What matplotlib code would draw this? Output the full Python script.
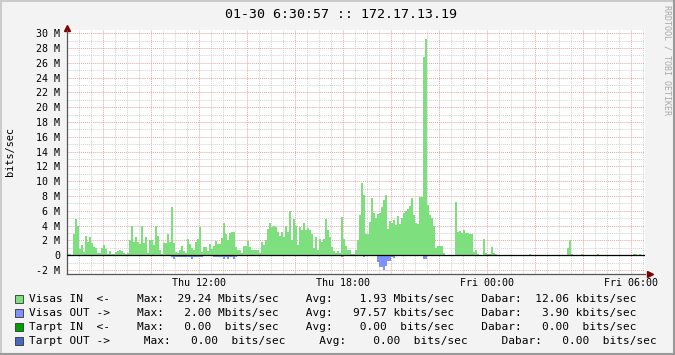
import numpy as np
import matplotlib.pyplot as plt
from matplotlib.lines import Line2D
from matplotlib.patches import Rectangle
from matplotlib.ticker import MultipleLocator

# Visas IN, Mbit/s, one value per 5 min starting Thu 06:30
visas_in = [
    0.15, 0.2, 0, 2.8, 4.9, 3.9, 0.8, 1.4, 0.45, 2.55,
    1.8, 2.5, 1.6, 1.05, 1.0, 0.35, 0.25, 1.0, 1.35, 0.9,
    0.2, 0.55, 0.2, 0.1, 0.45, 0.55, 0.65, 0.55, 0.25, 0.2,
    0.35, 2.0, 4.0, 1.8, 2.45, 1.8, 1.45, 4.0, 1.7, 2.45,
    0.35, 2.0, 2.0, 1.35, 4.0, 2.65, 0.65, 0.2, 1.7,
    1.7, 2.8, 1.8, 6.5, 1.6, 0.45, 0.35, 0.65, 1.3, 0.55,
    0.35, 2.2, 1.55, 1.0, 0.65, 1.8, 2.2, 3.8, 0.45, 1.1,
    1.1, 0.55, 1.55, 0.9, 1.3, 1.9, 1.45, 1.55, 2.35, 4.35,
    2.9, 2.0, 3.0, 3.1, 3.2, 1.1, 0.65, 0.65, 0.35, 1.2,
    1.2, 1.9, 1.1, 0.65, 0.65, 0.75, 0.65, 0.35, 1.8, 1.35,
    2.0, 3.6, 4.3, 3.8, 4.0, 3.8, 3.1, 2.6, 3.1, 2.45,
    4.0, 3.1, 6.0, 2.0, 4.9, 4.0, 1.35, 3.8, 3.45, 4.3,
    3.45, 3.7, 3.45, 2.9, 1.0, 2.45, 0.65, 2.2, 1.8, 2.25,
    4.9, 3.45, 2.45, 1.1, 0.55, 0.35, 0.55, 0.35, 5.1, 2.25,
    1.2, 0.65, 0.65, 0.2,
    0.2, 0.7, 2.0, 5.4, 9.7, 8.1, 2.8, 2.8, 4.5, 7.7, 5.7,
    5.0, 5.6, 5.7, 6.5, 7.4, 8.2, 3.5, 4.6, 4.4, 4.8,
    4.05, 5.3, 4.2, 5.0, 5.7, 6.0, 6.2, 6.7, 7.7, 5.5,
    4.4, 4.2, 7.9, 7.9,
    26.8, 29.2, 6.8, 5.5, 5.0, 4.0, 0.95, 1.2, 1.2, 1.2, 0.3, 0,
    0, 0, 0, 0,
    7.2, 3.15, 3.3, 3.05, 3.4, 3.05, 2.95, 2.9, 2.8, 0.45,
    0.7, 0.1, 0, 0, 2.25, 0.25, 0.2, 0.1, 1.1, 0.25, 0.1,
    0, 0, 0, 0, 0, 0, 0, 0, 0, 0, 0, 0, 0, 0, 0, 0,
    0.15,
    0, 0, 0, 0, 0, 0, 0, 0, 0, 0, 0, 0, 0, 0, 0, 0, 0, 0,
    1.0, 2.0, 0.2,
    0, 0, 0, 0,
    0.15,
    0, 0, 0, 0, 0, 0, 0,
    0.15,
    0, 0, 0, 0, 0, 0, 0, 0, 0, 0, 0, 0, 0, 0, 0, 0, 0,
    0.15, 0.15, 0, 0.15, 0, 0,
]

# Visas OUT (drawn below zero), runs of samples: first sample number + values
out_first = [53, 74, 138, 149, 156, 179]
out_runs = [
    [0.3, 0.5, 0.3, 0.3, 0.3, 0.3, 0.3, 0.3, 0.3, 0.3, 0.5, 0.3, 0.3, 0.3, 0.3, 0.3],
    [0.3, 0.3, 0.3, 0.3, 0.3, 0.5, 0.3, 0.5, 0.3, 0.3, 0.5, 0.3],
    [0.3],
    [0.3],
    [0.9, 1.6, 1.6, 2.0, 1.5, 0.8, 0.8, 0.3, 0.4],
    [0.5, 0.5],
]

x_ticks = [0, 6, 12, 18]
x_labels = ["Thu 12:00", "Thu 18:00", "Fri 00:00", "Fri 06:00"]

names = ["Visas IN  <-", "Visas OUT ->", "Tarpt IN  <-", "Tarpt OUT ->"]
max_txt = ["  29.24 M", "   2.00 M", "   0.00  ", "   0.00  "]
avg_txt = ["    1.93 M", "   97.57 k", "    0.00  ", "    0.00  "]
cur_txt = ["  12.06 k", "   3.90 k", "   0.00  ", "   0.00  "]
colors = ["#7ddf7d", "#8090ff", "#00a000", "#4a68c0"]

W, H = 675, 355
mono = "DejaVu Sans Mono"

n = len(visas_in)
edges = -5.5 + np.arange(n + 1) / 12.0
vin = np.array(visas_in)
vout = np.zeros(n)
for first, run in zip(out_first, out_runs):
    vout[first - 1:first - 1 + len(run)] = run

fig = plt.figure(figsize=(W / 100, H / 100), dpi=100, facecolor="#f3f3f3")
ax = fig.add_axes([67 / W, 1 - 273.7 / H, (645 - 67) / W, (273.7 - 30.3) / H])
ax.set_facecolor("white")

ax.stairs(vin, edges, fill=True, color=colors[0], lw=0)
ax.stairs(-vout, edges, fill=True, color=colors[1], lw=0)
ax.axhline(0, color="black", lw=0.9, zorder=3)

ax.set_xlim(-5.5, 18.583)
ax.set_ylim(-2.5, 30.4)

ax.set_xticks(np.arange(-4, 19, 2))
ax.set_xticklabels([x_labels[x_ticks.index(t)] if t in x_ticks else "" for t in range(-4, 19, 2)])
ax.xaxis.set_minor_locator(MultipleLocator(0.5))
yt = list(range(-2, 31, 2))
ax.set_yticks(yt)
ax.set_yticklabels([f"{v} M" if v else "0" for v in yt])
ax.yaxis.set_minor_locator(MultipleLocator(1))

ax.set_axisbelow(True)
ax.grid(which="minor", color="#d2d2d2", linestyle=(0, (1, 1)), lw=0.7)
ax.grid(which="major", color="#eaa4a4", linestyle=(0, (1, 1)), lw=0.7)
ax.tick_params(which="both", length=0, labelsize=7.2, colors="black")
ax.tick_params(axis="y", pad=5)
ax.tick_params(axis="x", pad=3)
for lab in ax.get_xticklabels() + ax.get_yticklabels():
    lab.set_family(mono)

for s in ["top", "right"]:
    ax.spines[s].set_visible(False)
for s in ["left", "bottom"]:
    ax.spines[s].set_color("#555555")
    ax.spines[s].set_linewidth(0.9)

# arrows at the end of the axes
ax.plot([18.78], [-2.5], marker=">", color="#7f0000", ms=4, clip_on=False)
ax.plot([-5.5], [30.7], marker="^", color="#7f0000", ms=4, clip_on=False)

fig.text(341 / W, 1 - 14 / H, "01-30 6:30:57 :: 172.17.13.19", family=mono,
         fontsize=9.5, ha="center", va="center")
fig.text(10 / W, 1 - 152 / H, "bits/sec", family=mono, fontsize=7.4,
         rotation=90, ha="center", va="center")
fig.text(667 / W, 1 - 5 / H, "RRDTOOL / TOBI OETIKER", family=mono, fontsize=6,
         rotation=270, ha="center", va="top", color="#a8a8a8")

# legend rows
rows_y = [299, 313, 327, 341]
for i in range(4):
    y = 1 - rows_y[i] / H
    fig.add_artist(Rectangle((15 / W, y - 4 / H), 8 / W, 8 / H, transform=fig.transFigure,
                             facecolor=colors[i], edgecolor="#333333", lw=0.6))
    gap = "    " if i < 3 else "     "
    line = (names[i] + gap + "Max:" + max_txt[i] + "bits/sec" + gap + "Avg:"
            + avg_txt[i] + "bits/sec" + gap + "Dabar:" + cur_txt[i] + "bits/sec")
    fig.text(29 / W, y, line, family=mono, fontsize=8, ha="left", va="center")

# image frame
fig.add_artist(Line2D([0, 1], [1 - 0.5 / H, 1 - 0.5 / H], transform=fig.transFigure, color="#cbcbcb", lw=1.5))
fig.add_artist(Line2D([0.5 / W, 0.5 / W], [0, 1], transform=fig.transFigure, color="#cbcbcb", lw=1.5))
fig.add_artist(Line2D([0, 1], [1.0 / H, 1.0 / H], transform=fig.transFigure, color="#999999", lw=1.5))
fig.add_artist(Line2D([1 - 1.0 / W, 1 - 1.0 / W], [0, 1], transform=fig.transFigure, color="#999999", lw=1.5))

fig.savefig("out.png", dpi=100, facecolor=fig.get_facecolor())
